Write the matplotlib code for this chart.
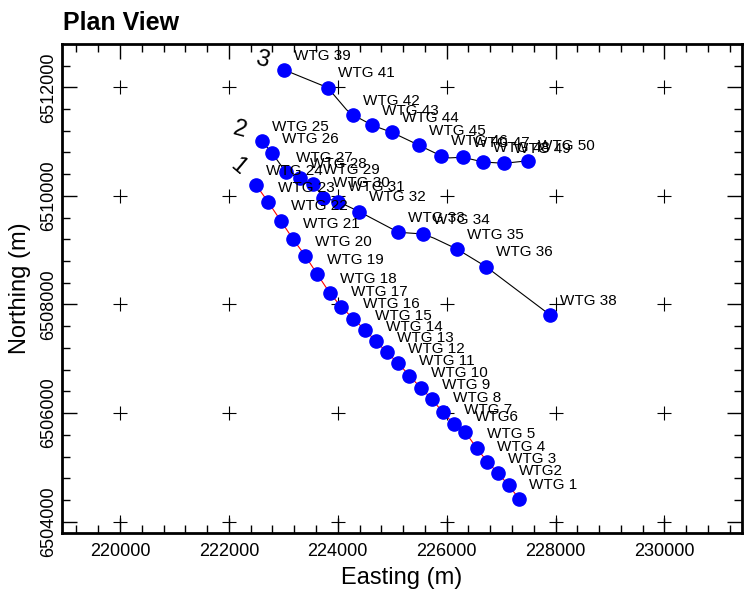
import numpy as np
import matplotlib
matplotlib.use("Agg")
import matplotlib.pyplot as plt
from matplotlib.ticker import MultipleLocator, ScalarFormatter

plt.rcParams['font.family'] = ['Liberation Sans', 'DejaVu Sans']

# String 1 (WTG 1 .. WTG 24)
s1_names = ["WTG 1", "WTG2", "WTG 3", "WTG 4", "WTG 5", "WTG6", "WTG 7", "WTG 8",
            "WTG 9", "WTG 10", "WTG 11", "WTG 12", "WTG 13", "WTG 14", "WTG 15",
            "WTG 16", "WTG 17", "WTG 18", "WTG 19", "WTG 20", "WTG 21", "WTG 22",
            "WTG 23", "WTG 24"]
s1_east = [227336, 227141, 226945, 226748, 226553, 226338, 226136, 225929,
           225732, 225524, 225315, 225113, 224900, 224703, 224501, 224286,
           224060, 223853, 223625, 223404, 223173, 222952, 222725, 222500]
s1_north = [6504413, 6504670, 6504891, 6505105, 6505352, 6505658, 6505794, 6506015,
            6506254, 6506468, 6506689, 6506917, 6507120, 6507322, 6507530, 6507738,
            6507960, 6508212, 6508556, 6508893, 6509212, 6509543, 6509882, 6510200]

# String 2 (WTG 25 .. WTG 38)
s2_names = ["WTG 25", "WTG 26", "WTG 27", "WTG 28", "WTG 29", "WTG 30", "WTG 31",
            "WTG 32", "WTG 33", "WTG 34", "WTG 35", "WTG 36", "WTG 38"]
s2_east = [222600, 222798, 223050, 223307, 223551, 223735, 224011,
           224396, 225113, 225567, 226197, 226724, 227900]
s2_north = [6511011, 6510785, 6510431, 6510324, 6510219, 6509967, 6509893,
            6509709, 6509330, 6509298, 6509017, 6508696, 6507807]

# String 3 (WTG 39 .. WTG 50)
s3_names = ["WTG 39", "WTG 41", "WTG 42", "WTG 43", "WTG 44", "WTG 45", "WTG 46",
            "WTG 47", "WTG 48", "WTG 49", "WTG 50"]
s3_east = [223019, 223816, 224286, 224635, 224992, 225493, 225892,
           226296, 226675, 227060, 227501]
s3_north = [6512319, 6511993, 6511490, 6511300, 6511171, 6510932, 6510740,
            6510711, 6510624, 6510600, 6510648]

# cable routes (pass through turbines, with a few extra bends)
r2_east = [222600, 222798, 223050, 223307, 223551, 223735, 224011,
           224396, 225113, 225567, 225770, 226197, 226724, 227900]
r2_north = [6511011, 6510785, 6510431, 6510324, 6510219, 6509967, 6509893,
            6509709, 6509330, 6509298, 6509220, 6509017, 6508696, 6507807]
r3_east = [223019, 223816, 224165, 224286, 224635, 224992, 225493, 225892,
           226050, 226296, 226675, 227060, 227501]
r3_north = [6512319, 6511993, 6511582, 6511490, 6511300, 6511171, 6510932, 6510740,
            6510700, 6510711, 6510624, 6510600, 6510648]

string_ids = ["1", "2", "3"]

x_major = [220000, 222000, 224000, 226000, 228000, 230000]
y_major = [6504000, 6506000, 6508000, 6510000, 6512000]

fig = plt.figure(figsize=(7.45, 5.91), dpi=100)
ax = fig.add_axes([62.3 / 745, 1 - 533 / 591, (741.7 - 62.3) / 745, (533 - 44) / 591])

ax.plot(s1_east, s1_north, '-', color='red', lw=0.8, zorder=2)
ax.plot(r2_east, r2_north, '-', color='black', lw=0.8, zorder=2)
ax.plot(r3_east, r3_north, '-', color='black', lw=0.8, zorder=2)

strings = [(s1_names, s1_east, s1_north),
           (s2_names, s2_east, s2_north),
           (s3_names, s3_east, s3_north)]

for names, ex, ny in strings:
    ax.plot(ex, ny, 'o', color='#0000ff', ms=9.5, mec='#0000ff', zorder=3,
            linestyle='none')
    for n, x, y in zip(names, ex, ny):
        ax.annotate(n, (x, y), xytext=(7.2, 10.3), textcoords='offset points',
                    ha='left', va='center', fontsize=11, zorder=4)

# string numbers near the first turbine of each string
starts = [(s1_east[-1], s1_north[-1], (-13, 13), -40),
          (s2_east[0], s2_north[0], (-16, 8), -15),
          (s3_east[0], s3_north[0], (-16, 7), -15)]
for sid, (x, y, off, rot) in zip(string_ids, starts):
    ax.annotate(sid, (x, y), xytext=off, textcoords='offset points',
                ha='center', va='center', fontsize=17, rotation=rot, zorder=4)

# grid crosses
gx, gy = np.meshgrid(x_major, y_major)
ax.plot(gx.ravel(), gy.ravel(), '+', color='black', ms=10, mew=0.8,
        linestyle='none', zorder=1)

ax.set_xlim(218940, 231420)
ax.set_ylim(6503792, 6512797)

ax.xaxis.set_major_locator(MultipleLocator(2000))
ax.xaxis.set_minor_locator(MultipleLocator(400))
ax.yaxis.set_major_locator(MultipleLocator(2000))
ax.yaxis.set_minor_locator(MultipleLocator(400))
for axis in (ax.xaxis, ax.yaxis):
    fmt = ScalarFormatter(useOffset=False)
    fmt.set_scientific(False)
    axis.set_major_formatter(fmt)

ax.tick_params(which='both', direction='in', top=True, right=True)
ax.tick_params(which='major', length=11, width=1.0)
ax.tick_params(which='minor', length=5.5, width=1.0)
ax.tick_params(axis='x', labelsize=13, pad=7)
ax.tick_params(axis='y', labelsize=13, pad=4, labelrotation=90)
for lab in ax.get_yticklabels():
    lab.set_va('center')

for sp in ax.spines.values():
    sp.set_linewidth(2)

ax.set_xlabel('Easting (m)', fontsize=17, labelpad=5)
ax.set_ylabel('Northing (m)', fontsize=17, labelpad=6)

fig.text(63 / 745, 1 - 30 / 591, 'Plan View', fontsize=18, fontweight='bold',
         ha='left', va='baseline')

fig.savefig('out.png', dpi=100)
